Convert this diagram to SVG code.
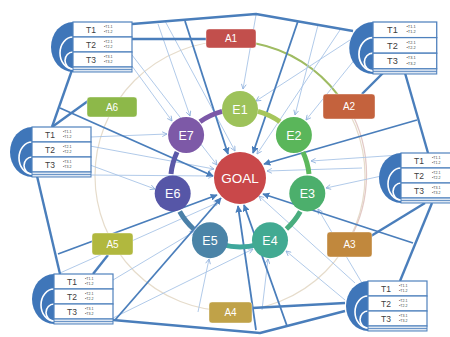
<svg xmlns="http://www.w3.org/2000/svg" width="450" height="337" viewBox="0 0 450 337">
  <defs>
    <marker id="ah" viewBox="0 0 10 10" refX="9" refY="5" markerWidth="7" markerHeight="7" orient="auto" markerUnits="userSpaceOnUse">
      <path d="M0,0 L10,5 L0,10 z" fill="#4a7ebb"/>
    </marker>
    <marker id="ahs" viewBox="0 0 10 10" refX="9" refY="5" markerWidth="6" markerHeight="6" orient="auto" markerUnits="userSpaceOnUse">
      <path d="M1,1 L9,5 L1,9" fill="none" stroke="#8fb0dc" stroke-width="1.4"/>
    </marker>
    <style>
      .ring { fill: none; stroke: #e6dccb; stroke-width: 1.2; }
      .thick { fill: none; stroke: #4a7ebb; stroke-width: 2.4; stroke-linejoin: round; }
      .spoke { fill: none; stroke: #4a7ebb; stroke-width: 1.8; marker-end: url(#ah); }
      .thin { fill: none; stroke: #a8c4e6; stroke-width: 0.9; marker-end: url(#ahs); }
      .seg { fill: none; stroke-width: 5; }
      .abox text, .enode text, #goal text { font-family: "Liberation Sans", Arial, sans-serif; fill: #ffffff; text-anchor: middle; }
      .abox rect { stroke: #ffffff; stroke-opacity: 0.5; stroke-width: 0.8; }
      .abox text { font-size: 10px; }
      .enode text { font-size: 12.5px; }
      .disc { fill: #3f76b9; }
      .warc { fill: none; stroke: #ffffff; stroke-width: 1.6; }
      .row { fill: #ffffff; stroke: #4f81bd; stroke-width: 1.2; }
      .strip { fill: #dce6f2; stroke: #4f81bd; stroke-width: 1; }
      .tl { font-family: "Liberation Sans", Arial, sans-serif; font-size: 8.5px; fill: #404040; }
      .bl { font-family: "Liberation Sans", Arial, sans-serif; font-size: 3.6px; fill: #404040; }
    </style>
  </defs>

  <rect width="450" height="337" fill="#ffffff"/>

  <!-- outer guide circle through the activity boxes -->
  <g id="guide">
    <circle class="ring" cx="230" cy="176" r="135"/>
    <path d="M349,108 A135,135 0 0 1 349,241" fill="none" stroke="#e3cac7" stroke-width="1.3"/>
    <path d="M255.8,43.5 A135,135 0 0 1 337.8,94.8" fill="none" stroke="#9fbc62" stroke-width="2"/>
  </g>

  <g id="connectors">
    <!-- thin feeder lines -->
    <line class="thin" x1="158" y1="24" x2="190" y2="116"/>
    <line class="thin" x1="165" y1="21" x2="235" y2="151"/>
    <line class="thin" x1="132" y1="66" x2="172" y2="121"/>
    <line class="thin" x1="132" y1="55" x2="217" y2="165"/>
    <line class="thin" x1="90" y1="137" x2="167" y2="134"/>
    <line class="thin" x1="90" y1="146" x2="214" y2="169"/>
    <line class="thin" x1="90" y1="175" x2="213" y2="176"/>
    <line class="thin" x1="90" y1="165" x2="155" y2="189"/>
    <line class="thin" x1="113" y1="280" x2="195" y2="231"/>
    <line class="thin" x1="60" y1="273" x2="219" y2="202"/>
    <line class="thin" x1="113" y1="318" x2="253" y2="249"/>
    <line class="thin" x1="198" y1="312" x2="209" y2="259"/>
    <line class="thin" x1="262" y1="310" x2="268" y2="259"/>
    <line class="thin" x1="345" y1="300" x2="286" y2="251"/>
    <line class="thin" x1="355" y1="283" x2="259" y2="196"/>
    <line class="thin" x1="362" y1="283" x2="318" y2="209"/>
    <line class="thin" x1="400" y1="155" x2="311" y2="161"/>
    <line class="thin" x1="362" y1="168" x2="267" y2="171"/>
    <line class="thin" x1="400" y1="172" x2="326" y2="188"/>
    <line class="thin" x1="318" y1="25" x2="295" y2="115"/>
    <line class="thin" x1="350" y1="40" x2="256" y2="101"/>
    <line class="thin" x1="356" y1="58" x2="306" y2="120"/>
    <line class="thin" x1="340" y1="30" x2="257" y2="154"/>
    <line class="thin" x1="256" y1="15" x2="243" y2="89"/>

    <!-- outer frame -->
    <polyline class="thick" points="132,24 256,14 353,31"/>
    <line class="thick" x1="405" y1="73" x2="428" y2="153"/>
    <line class="thick" x1="432" y1="203" x2="400" y2="281"/>
    <polyline class="thick" points="345,311 260,333 113,320"/>
    <line class="thick" x1="60" y1="274" x2="37" y2="176"/>
    <line class="thick" x1="52" y1="127" x2="72" y2="70"/>

    <!-- lists to activities -->
    <line class="thick" x1="132" y1="39" x2="206" y2="39"/>
    <line class="thick" x1="383" y1="73" x2="362" y2="94"/>
    <line class="thick" x1="425" y1="203" x2="371" y2="236"/>
    <line class="thick" x1="252" y1="308" x2="345" y2="303"/>
    <line class="thick" x1="108" y1="255" x2="93" y2="274"/>
    <line class="thick" x1="88" y1="101" x2="52" y2="127"/>

    <!-- spokes into the goal -->
    <line class="spoke" x1="185" y1="21" x2="228" y2="154"/>
    <line class="spoke" x1="298" y1="21" x2="253" y2="153"/>
    <line class="spoke" x1="417" y1="120" x2="264" y2="164"/>
    <line class="spoke" x1="413" y1="243" x2="263" y2="194"/>
    <line class="spoke" x1="287" y1="326" x2="244" y2="205"/>
    <line class="spoke" x1="256" y1="330" x2="238" y2="206"/>
    <line class="spoke" x1="115" y1="320" x2="221" y2="198"/>
    <line class="spoke" x1="58" y1="254" x2="217" y2="195"/>
    <line class="spoke" x1="60" y1="108" x2="213" y2="176"/>
  </g>

  <!-- links between neighbouring enablers -->
  <g id="cycle">
    <path class="seg" stroke="#a6c65c" d="M257.9,111.4 A69,69 0 0 1 280.0,121.8"/>
    <path class="seg" stroke="#5cb85c" d="M302.9,152.0 A69,69 0 0 1 309.0,173.9"/>
    <path class="seg" stroke="#49ad7e" d="M300.3,211.5 A69,69 0 0 1 286.4,229.0"/>
    <path class="seg" stroke="#3fa79c" d="M257.9,244.6 A69,69 0 0 1 222.1,244.6"/>
    <path class="seg" stroke="#4a80a8" d="M193.6,229.0 A69,69 0 0 1 179.7,211.5"/>
    <path class="seg" stroke="#5a58a8" d="M171.0,173.9 A69,69 0 0 1 177.1,152.0"/>
    <path class="seg" stroke="#7c58a8" d="M200.0,121.8 A69,69 0 0 1 222.1,111.4"/>
  </g>

  <g id="goal">
    <circle cx="240" cy="178" r="26" fill="#c9484a"/>
    <text x="240" y="182.5" font-size="13.5">GOAL</text>
  </g>

  <g id="e1" class="enode"><circle cx="240" cy="109" r="18" fill="#9dc25a"/><text x="240" y="113.5">E1</text></g>
  <g id="e2" class="enode"><circle cx="293.9" cy="135" r="18" fill="#5ab65a"/><text x="293.9" y="139.5">E2</text></g>
  <g id="e3" class="enode"><circle cx="307.3" cy="193.4" r="18" fill="#4caf6c"/><text x="307.3" y="197.9">E3</text></g>
  <g id="e4" class="enode"><circle cx="270" cy="240.2" r="18" fill="#42aa92"/><text x="270" y="244.7">E4</text></g>
  <g id="e5" class="enode"><circle cx="210" cy="240.2" r="18" fill="#4b84a7"/><text x="210" y="244.7">E5</text></g>
  <g id="e6" class="enode"><circle cx="172.7" cy="193.4" r="18" fill="#5656a7"/><text x="172.7" y="197.9">E6</text></g>
  <g id="e7" class="enode"><circle cx="186.1" cy="135" r="18" fill="#7d59a7"/><text x="186.1" y="139.5">E7</text></g>

  <g id="a1" class="abox"><rect x="206" y="29" width="50" height="19" rx="3" fill="#c24f4c"/><text x="231" y="42">A1</text></g>
  <g id="a2" class="abox"><rect x="323" y="94" width="52" height="25" rx="3" fill="#c4623d"/><text x="349" y="110">A2</text></g>
  <g id="a3" class="abox"><rect x="327" y="232" width="45" height="25" rx="3" fill="#c1883d"/><text x="349.5" y="248">A3</text></g>
  <g id="a4" class="abox"><rect x="209" y="302" width="43" height="21" rx="3" fill="#c0a248"/><text x="230.5" y="316">A4</text></g>
  <g id="a5" class="abox"><rect x="92" y="233" width="41" height="22" rx="3" fill="#b1b83e"/><text x="112.5" y="247.5">A5</text></g>
  <g id="a6" class="abox"><rect x="87" y="97" width="50" height="20" rx="3" fill="#8db849"/><text x="112" y="110.5">A6</text></g>

  <!-- task lists -->
  <g id="list-tl" transform="translate(73,22)">
    <path class="disc" d="M0,0 A22,25 0 0 0 0,50 Z"/>
    <path class="warc" d="M0,15 A13,16 0 0 0 0,47"/>
    <path class="warc" d="M0,30 A8,8.5 0 0 0 0,47"/>
    <rect class="row" x="0" y="0" width="59" height="15"/>
    <rect class="row" x="0" y="15" width="59" height="15"/>
    <rect class="row" x="0" y="30" width="59" height="15"/>
    <rect class="strip" x="0" y="45" width="59" height="5"/>
    <line x1="0" y1="47.5" x2="59" y2="47.5" stroke="#4f81bd" stroke-width="0.8"/>
    <text class="tl" x="13" y="10.5">T1</text><text class="bl" x="31" y="6">•T1.1</text><text class="bl" x="31" y="11">•T1.2</text>
    <text class="tl" x="13" y="25.5">T2</text><text class="bl" x="31" y="21">•T2.1</text><text class="bl" x="31" y="26">•T2.2</text>
    <text class="tl" x="13" y="40.5">T3</text><text class="bl" x="31" y="36">•T3.1</text><text class="bl" x="31" y="41">•T3.2</text>
  </g>
  <g id="list-tr" transform="translate(373,22) scale(1.08,1.04)">
    <path class="disc" d="M0,0 A22,25 0 0 0 0,50 Z"/>
    <path class="warc" d="M0,15 A13,16 0 0 0 0,47"/>
    <path class="warc" d="M0,30 A8,8.5 0 0 0 0,47"/>
    <rect class="row" x="0" y="0" width="59" height="15"/>
    <rect class="row" x="0" y="15" width="59" height="15"/>
    <rect class="row" x="0" y="30" width="59" height="15"/>
    <rect class="strip" x="0" y="45" width="59" height="5"/>
    <line x1="0" y1="47.5" x2="59" y2="47.5" stroke="#4f81bd" stroke-width="0.8"/>
    <text class="tl" x="13" y="10.5">T1</text><text class="bl" x="31" y="6">•T1.1</text><text class="bl" x="31" y="11">•T1.2</text>
    <text class="tl" x="13" y="25.5">T2</text><text class="bl" x="31" y="21">•T2.1</text><text class="bl" x="31" y="26">•T2.2</text>
    <text class="tl" x="13" y="40.5">T3</text><text class="bl" x="31" y="36">•T3.1</text><text class="bl" x="31" y="41">•T3.2</text>
  </g>
  <g id="list-l" transform="translate(32,127)">
    <path class="disc" d="M0,0 A22,25 0 0 0 0,50 Z"/>
    <path class="warc" d="M0,15 A13,16 0 0 0 0,47"/>
    <path class="warc" d="M0,30 A8,8.5 0 0 0 0,47"/>
    <rect class="row" x="0" y="0" width="59" height="15"/>
    <rect class="row" x="0" y="15" width="59" height="15"/>
    <rect class="row" x="0" y="30" width="59" height="15"/>
    <rect class="strip" x="0" y="45" width="59" height="5"/>
    <line x1="0" y1="47.5" x2="59" y2="47.5" stroke="#4f81bd" stroke-width="0.8"/>
    <text class="tl" x="13" y="10.5">T1</text><text class="bl" x="31" y="6">•T1.1</text><text class="bl" x="31" y="11">•T1.2</text>
    <text class="tl" x="13" y="25.5">T2</text><text class="bl" x="31" y="21">•T2.1</text><text class="bl" x="31" y="26">•T2.2</text>
    <text class="tl" x="13" y="40.5">T3</text><text class="bl" x="31" y="36">•T3.1</text><text class="bl" x="31" y="41">•T3.2</text>
  </g>
  <g id="list-r" transform="translate(401,153)">
    <path class="disc" d="M0,0 A22,25 0 0 0 0,50 Z"/>
    <path class="warc" d="M0,15 A13,16 0 0 0 0,47"/>
    <path class="warc" d="M0,30 A8,8.5 0 0 0 0,47"/>
    <rect class="row" x="0" y="0" width="59" height="15"/>
    <rect class="row" x="0" y="15" width="59" height="15"/>
    <rect class="row" x="0" y="30" width="59" height="15"/>
    <rect class="strip" x="0" y="45" width="59" height="5"/>
    <line x1="0" y1="47.5" x2="59" y2="47.5" stroke="#4f81bd" stroke-width="0.8"/>
    <text class="tl" x="13" y="10.5">T1</text><text class="bl" x="31" y="6">•T1.1</text><text class="bl" x="31" y="11">•T1.2</text>
    <text class="tl" x="13" y="25.5">T2</text><text class="bl" x="31" y="21">•T2.1</text><text class="bl" x="31" y="26">•T2.2</text>
    <text class="tl" x="13" y="40.5">T3</text><text class="bl" x="31" y="36">•T3.1</text><text class="bl" x="31" y="41">•T3.2</text>
  </g>
  <g id="list-bl" transform="translate(54,274)">
    <path class="disc" d="M0,0 A22,25 0 0 0 0,50 Z"/>
    <path class="warc" d="M0,15 A13,16 0 0 0 0,47"/>
    <path class="warc" d="M0,30 A8,8.5 0 0 0 0,47"/>
    <rect class="row" x="0" y="0" width="59" height="15"/>
    <rect class="row" x="0" y="15" width="59" height="15"/>
    <rect class="row" x="0" y="30" width="59" height="15"/>
    <rect class="strip" x="0" y="45" width="59" height="5"/>
    <line x1="0" y1="47.5" x2="59" y2="47.5" stroke="#4f81bd" stroke-width="0.8"/>
    <text class="tl" x="13" y="10.5">T1</text><text class="bl" x="31" y="6">•T1.1</text><text class="bl" x="31" y="11">•T1.2</text>
    <text class="tl" x="13" y="25.5">T2</text><text class="bl" x="31" y="21">•T2.1</text><text class="bl" x="31" y="26">•T2.2</text>
    <text class="tl" x="13" y="40.5">T3</text><text class="bl" x="31" y="36">•T3.1</text><text class="bl" x="31" y="41">•T3.2</text>
  </g>
  <g id="list-br" transform="translate(368,281)">
    <path class="disc" d="M0,0 A22,25 0 0 0 0,50 Z"/>
    <path class="warc" d="M0,15 A13,16 0 0 0 0,47"/>
    <path class="warc" d="M0,30 A8,8.5 0 0 0 0,47"/>
    <rect class="row" x="0" y="0" width="59" height="15"/>
    <rect class="row" x="0" y="15" width="59" height="15"/>
    <rect class="row" x="0" y="30" width="59" height="15"/>
    <rect class="strip" x="0" y="45" width="59" height="5"/>
    <line x1="0" y1="47.5" x2="59" y2="47.5" stroke="#4f81bd" stroke-width="0.8"/>
    <text class="tl" x="13" y="10.5">T1</text><text class="bl" x="31" y="6">•T1.1</text><text class="bl" x="31" y="11">•T1.2</text>
    <text class="tl" x="13" y="25.5">T2</text><text class="bl" x="31" y="21">•T2.1</text><text class="bl" x="31" y="26">•T2.2</text>
    <text class="tl" x="13" y="40.5">T3</text><text class="bl" x="31" y="36">•T3.1</text><text class="bl" x="31" y="41">•T3.2</text>
  </g>
</svg>
